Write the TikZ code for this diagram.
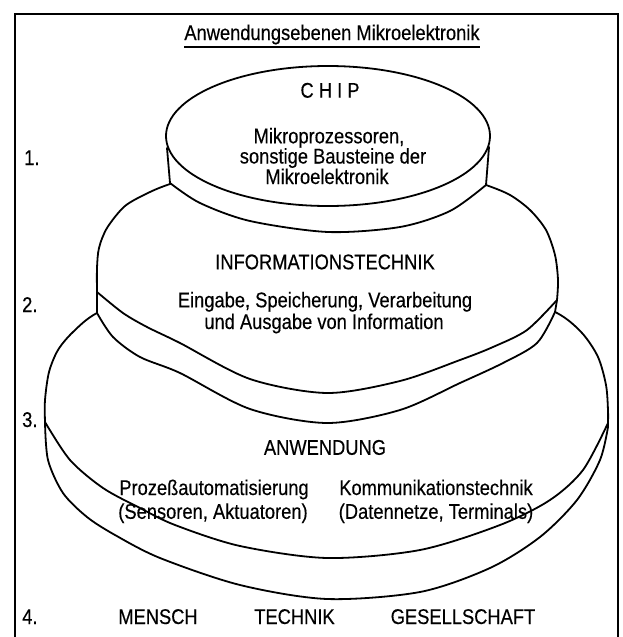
\documentclass[tikz,border=0pt]{standalone}
\usepackage{fontspec}
\setmainfont{Liberation Sans}[FakeStretch=0.86,FakeBold=0.3]
\begin{document}
\begin{tikzpicture}[x=1pt,y=-1pt,
  disc/.style={draw=black, line width=1.8pt, fill=white, line join=round},
  edge/.style={draw=black, line width=1.8pt, line cap=round},
  frame/.style={draw=black, line width=1.3pt},
  lbl/.style={anchor=base, inner sep=0pt, font=\fontsize{21.3}{23}\selectfont},
  num/.style={anchor=base west, inner sep=0pt, font=\fontsize{21.3}{23}\selectfont}]
\useasboundingbox (0,0) rectangle (623,637);

% frame
\draw[frame] (15,637) -- (15,14) -- (618,14) -- (618,637);

% ---- disc 3: ANWENDUNG
\path[disc] plot[smooth] coordinates {(45,422) (45,400) (49,372) (58,350) (73,332) (97,313) (150,292) (327,278) (504,292) (557,313) (582,333) (598,357) (606,385) (608,410) (608,423)}
  -- plot[smooth] coordinates {(608,427) (600,460) (577,500) (540,537) (490,568) (420,592) (327,599) (240,585) (160,558) (115,535) (87,517) (63,493) (48,460) (45,422)} -- cycle;
\draw[edge] plot[smooth] coordinates {(45,422) (70,460) (103,488) (140,508) (175,525) (240,546) (327,558) (420,550) (500,525) (550,500) (583,470) (608,423)};

% ---- disc 2: INFORMATIONSTECHNIK
\path[disc] plot[smooth] coordinates {(97,292) (97,268) (99,248) (107,228) (125,206) (150,192) (170,184) (200,175) (327,160) (454,175) (486,185) (510,195) (530,210) (546,230) (555,255) (558,280) (557,300)}
  -- (555,312) -- plot[smooth] coordinates {(555,312) (537,343) (503,363) (460,383) (400,410) (327,423) (250,409) (180,373) (140,357) (113,337) (97,313)} -- cycle;
\draw[edge] plot[smooth] coordinates {(97,292) (123,313) (147,327) (180,343) (250,379) (327,393) (400,381) (460,360) (493,347) (527,330) (557,300)};

% ---- disc 1: CHIP
\fill[white] (167,148) -- (170,183) -- plot[smooth] coordinates {(170,183) (200,203) (250,221) (328,232) (400,227) (450,211) (486,185)} -- (489,147) -- cycle;
\draw[disc] (328,136) ellipse [x radius=162pt, y radius=70pt];
\draw[edge] (167,148) -- (170,183) -- plot[smooth] coordinates {(170,183) (200,203) (250,221) (328,232) (400,227) (450,211) (486,185)} -- (489,147);

% ---- title
\node[lbl] (title) at (332,40) {Anwendungsebenen Mikroelektronik};
\draw[line width=1.2pt] ([yshift=-7pt]title.base west) -- ([yshift=-7pt]title.base east);

% ---- texts
\node[lbl] (chipT) at (330,97.7) {C H I P};
\node[lbl] (chip1) at (329,143.3) {Mikroprozessoren,};
\node[lbl] (chip2) at (333,163.5) {sonstige Bausteine der};
\node[lbl] (chip3) at (327,184) {Mikroelektronik};

\node[lbl] (infoT) at (325,269.3) {INFORMATIONSTECHNIK};
\node[lbl] (info1) at (325,307.3) {Eingabe, Speicherung, Verarbeitung};
\node[lbl] (info2) at (324,329) {und Ausgabe von Information};

\node[lbl] (anwT) at (325,454.8) {ANWENDUNG};
\node[lbl] (anwL1) at (214,495) {Prozeßautomatisierung};
\node[lbl] (anwL2) at (213,518.8) {(Sensoren, Aktuatoren)};
\node[lbl] (anwR1) at (436,495) {Kommunikationstechnik};
\node[lbl] (anwR2) at (436,518.8) {(Datennetze, Terminals)};

\node[lbl] (mensch) at (158,624) {MENSCH};
\node[lbl] (technik) at (294.5,624) {TECHNIK};
\node[lbl] (gesell) at (463,624) {GESELLSCHAFT};

\node[num] (n1) at (24,165) {1.};
\node[num] (n2) at (22,312) {2.};
\node[num] (n3) at (22,427) {3.};
\node[num] (n4) at (22,624) {4.};
\end{tikzpicture}
\end{document}
